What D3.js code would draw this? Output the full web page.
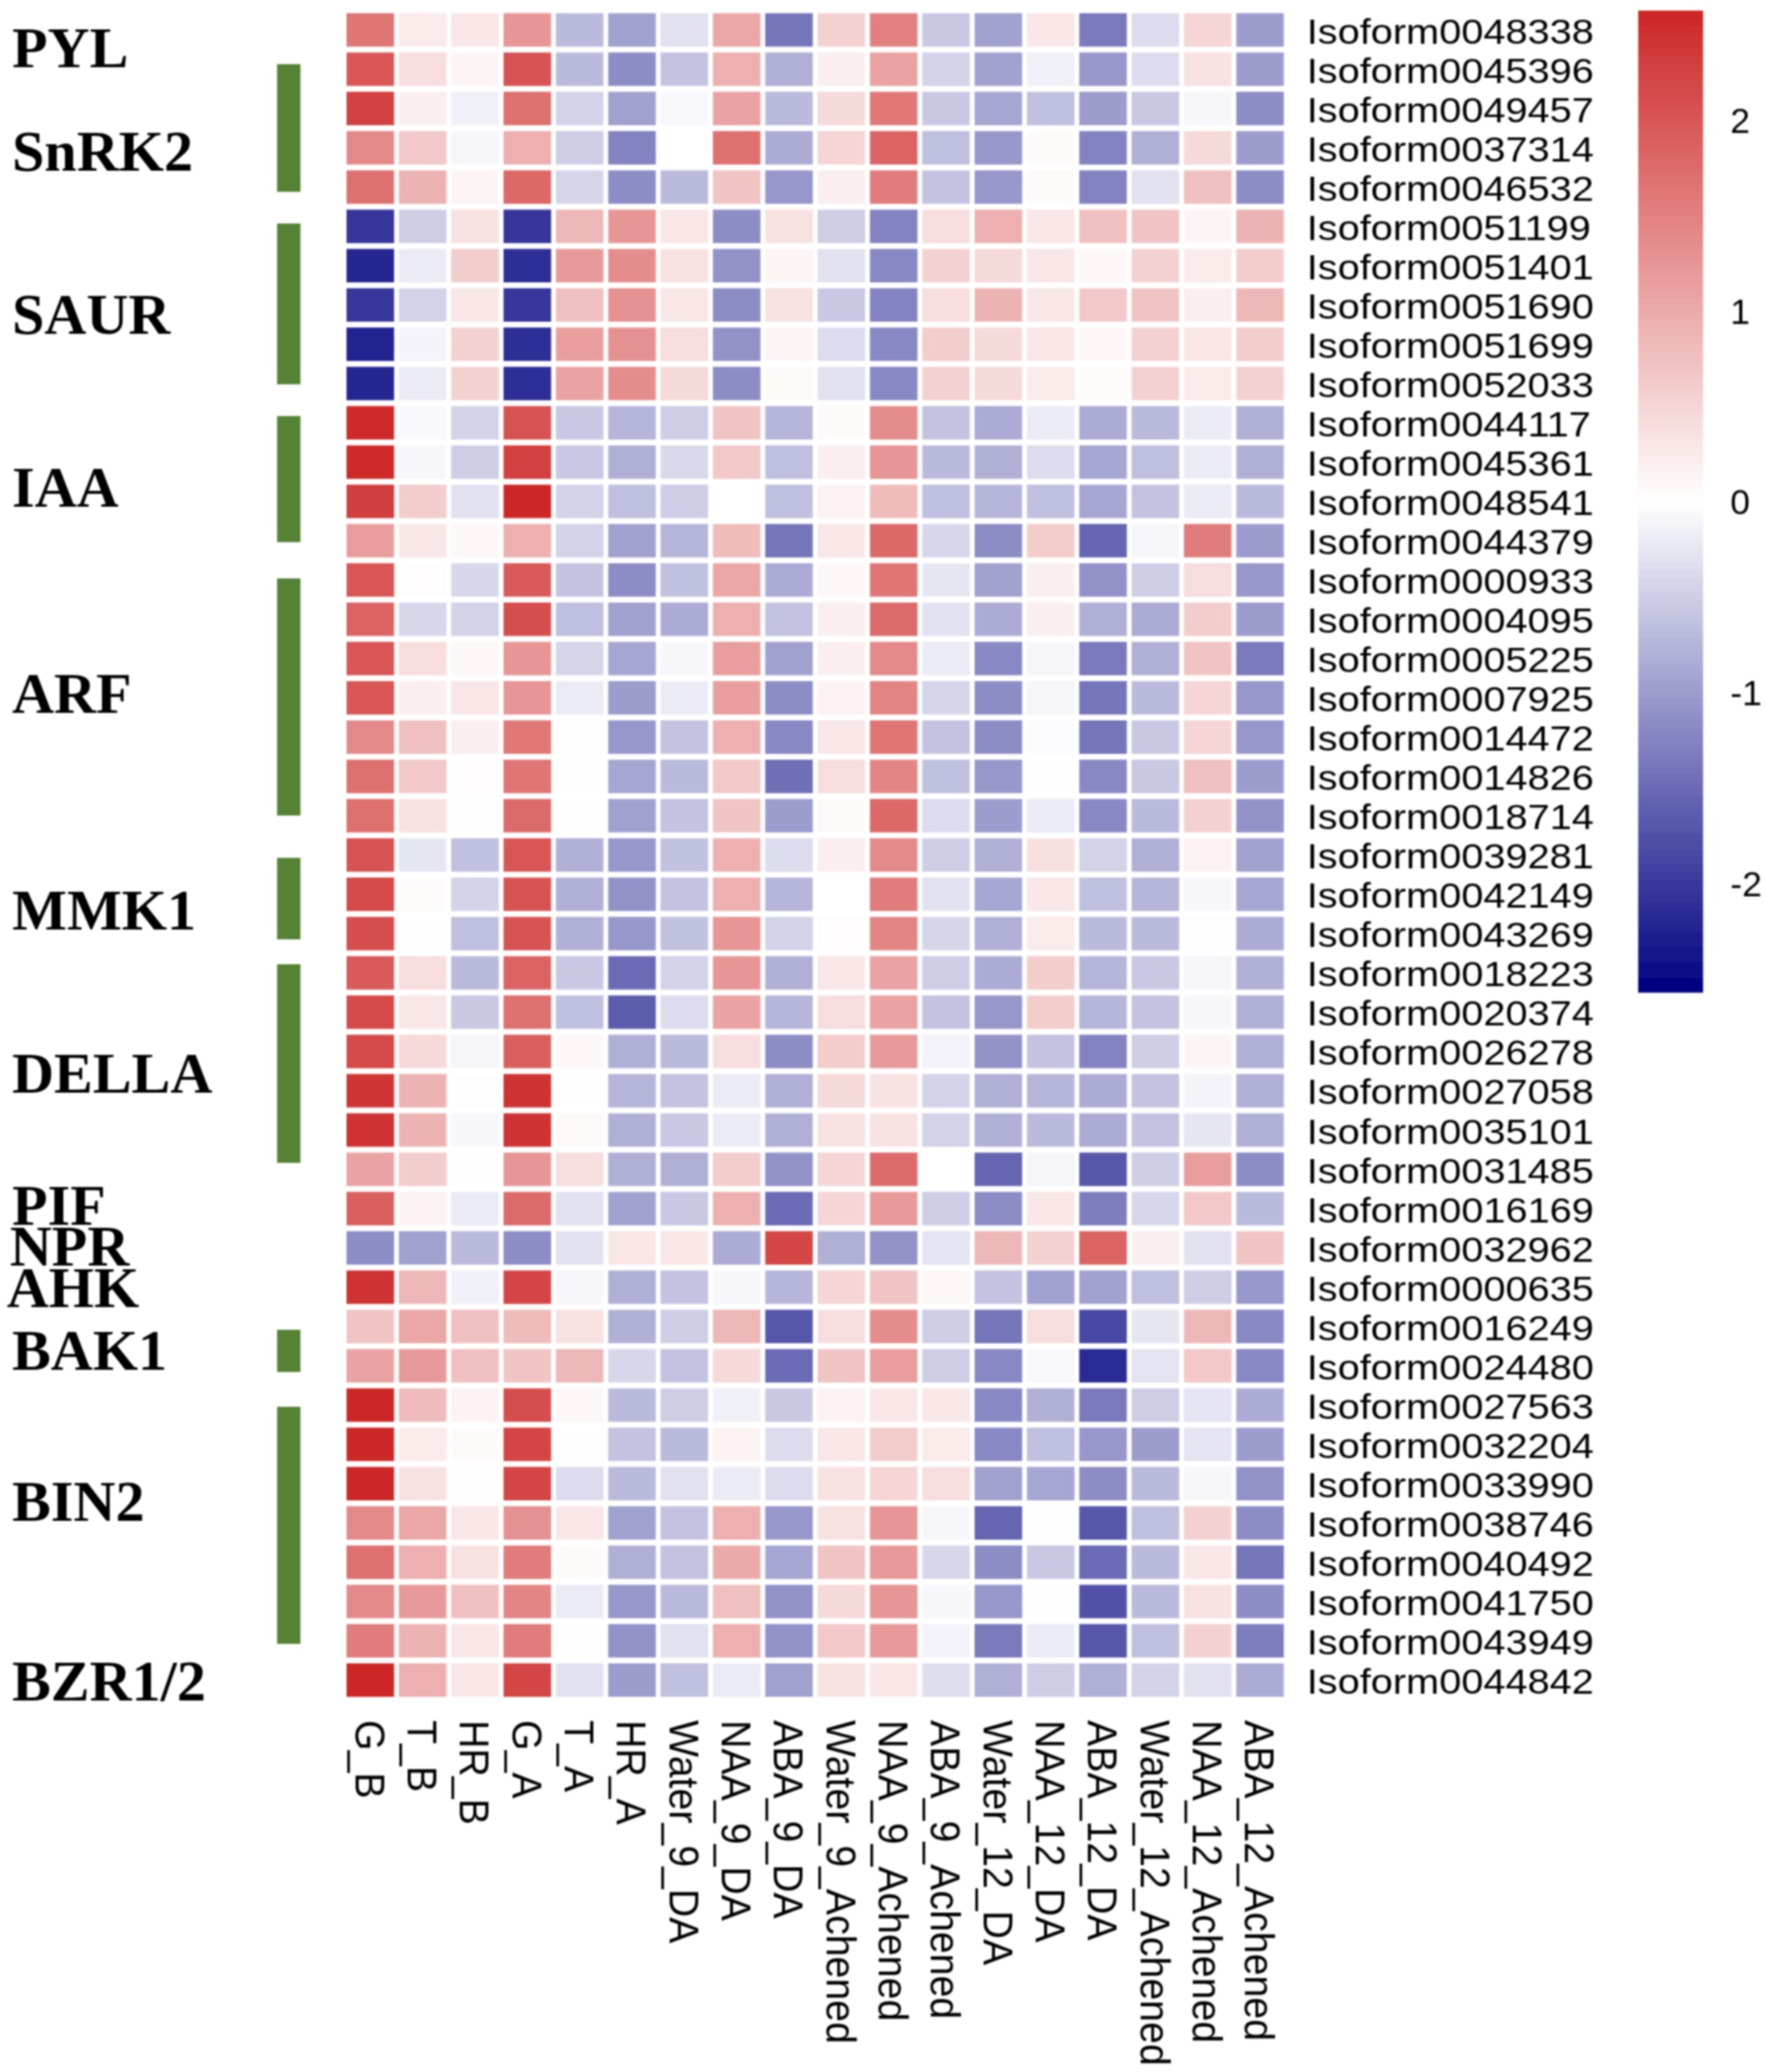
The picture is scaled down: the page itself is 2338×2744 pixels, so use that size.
<!DOCTYPE html>
<html>
<head>
<meta charset="utf-8">
<script src="https://cdn.jsdelivr.net/npm/d3@7/dist/d3.min.js"></script>
<style>
html,body{margin:0;padding:0;background:#fff;}
svg{display:block;}
</style>
</head>
<body>
<div id="chart"></div>
<script>
const samples = ["G_B","T_B","HR_B","G_A","T_A","HR_A","Water_9_DA","NAA_9_DA","ABA_9_DA","Water_9_Achened","NAA_9_Achened","ABA_9_Achened","Water_12_DA","NAA_12_DA","ABA_12_DA","Water_12_Achened","NAA_12_Achened","ABA_12_Achened"];
const isoforms = ["Isoform0048338","Isoform0045396","Isoform0049457","Isoform0037314","Isoform0046532","Isoform0051199","Isoform0051401","Isoform0051690","Isoform0051699","Isoform0052033","Isoform0044117","Isoform0045361","Isoform0048541","Isoform0044379","Isoform0000933","Isoform0004095","Isoform0005225","Isoform0007925","Isoform0014472","Isoform0014826","Isoform0018714","Isoform0039281","Isoform0042149","Isoform0043269","Isoform0018223","Isoform0020374","Isoform0026278","Isoform0027058","Isoform0035101","Isoform0031485","Isoform0016169","Isoform0032962","Isoform0000635","Isoform0016249","Isoform0024480","Isoform0027563","Isoform0032204","Isoform0033990","Isoform0038746","Isoform0040492","Isoform0041750","Isoform0043949","Isoform0044842"];
const expression = [
[1.65,.25,.3,1.25,-.7,-.95,-.3,1.05,-1.4,.55,1.5,-.55,-.95,.3,-1.35,-.35,.5,-1.0],
[2.0,.4,.12,2.05,-.7,-1.15,-.6,.95,-.8,.2,1.1,-.45,-.95,-.15,-1.05,-.35,.35,-1.0],
[2.25,.2,-.15,1.7,-.45,-.95,-.07,1.1,-.7,.45,1.6,-.55,-.9,-.65,-1.0,-.55,-.08,-1.15],
[1.4,.65,-.1,.95,-.5,-1.25,0,1.7,-.85,.5,1.85,-.65,-1.05,.06,-1.25,-.8,.45,-1.0],
[1.7,.9,.12,1.8,-.42,-1.15,-.7,.7,-1.05,.2,1.55,-.6,-1.05,.06,-1.25,-.3,.75,-1.15],
[-2.05,-.5,.35,-2.05,.85,1.25,.3,-1.15,.35,-.5,-1.25,.4,.95,.3,.75,.7,.12,.9],
[-2.2,-.2,.6,-2.1,1.2,1.35,.35,-1.1,.12,-.3,-1.2,.55,.45,.3,.1,.55,.25,.6],
[-2.0,-.45,.3,-2.0,.75,1.3,.3,-1.15,.35,-.55,-1.25,.4,.9,.3,.65,.7,.2,.85],
[-2.25,-.12,.55,-2.1,1.15,1.3,.4,-1.1,.12,-.35,-1.2,.6,.45,.3,.1,.55,.3,.6],
[-2.2,-.2,.55,-2.1,1.1,1.35,.45,-1.15,.07,-.3,-1.2,.55,.45,.25,.05,.55,.25,.55],
[2.5,-.06,-.45,2.05,-.55,-.75,-.5,.7,-.75,.06,1.35,-.6,-.85,-.2,-.85,-.7,-.2,-.8],
[2.5,-.08,-.5,2.25,-.55,-.8,-.38,.65,-.65,.2,1.25,-.7,-.8,-.35,-.9,-.65,-.2,-.8],
[2.3,.6,-.3,2.55,-.45,-.65,-.5,0,-.65,.15,.8,-.65,-.75,-.65,-.9,-.6,-.2,-.7],
[1.15,.3,.1,.95,-.45,-.95,-.75,.8,-1.4,.3,1.8,-.4,-1.15,.6,-1.55,-.1,1.55,-1.0],
[2.0,.03,-.4,1.95,-.6,-1.15,-.65,1.05,-.85,.1,1.65,-.25,-.95,.2,-1.1,-.5,.4,-1.05],
[1.85,-.4,-.45,2.1,-.65,-.95,-.85,.95,-.6,.2,1.75,-.3,-.85,.2,-.8,-.85,.6,-1.0],
[2.0,.4,.1,1.25,-.42,-.9,-.08,1.15,-.95,.2,1.4,-.2,-1.2,-.1,-1.35,-.8,.7,-1.35],
[2.0,.2,.3,1.25,-.2,-1.0,-.2,1.15,-1.15,.15,1.45,-.42,-1.15,-.1,-1.4,-.7,.5,-1.05],
[1.4,.75,.2,1.6,-.02,-1.05,-.6,.95,-1.2,.3,1.65,-.6,-1.15,-.03,-1.4,-.55,.5,-1.05],
[1.7,.65,.02,1.65,-.01,-.9,-.7,.65,-1.45,.4,1.45,-.65,-1.05,-.01,-1.2,-.55,.75,-1.0],
[1.7,.35,.01,1.75,-.01,-.95,-.6,.7,-1.0,.07,1.8,-.35,-1.0,-.2,-1.2,-.7,.55,-1.1],
[2.05,-.25,-.65,2.0,-.8,-1.05,-.62,.95,-.35,.2,1.4,-.5,-.8,.38,-.45,-.8,.15,-.95],
[2.15,.05,-.45,2.05,-.8,-1.1,-.6,.95,-.75,0,1.55,-.3,-.9,.3,-.65,-.75,-.08,-.9],
[2.1,-.01,-.65,2.05,-.8,-1.05,-.62,1.25,-.45,.04,1.45,-.42,-.8,.25,-.7,-.7,-.02,-.85],
[1.95,.4,-.7,1.85,-.55,-1.5,-.45,1.25,-.8,.3,1.1,-.5,-.85,.6,-.75,-.55,-.1,-.8],
[2.15,.3,-.55,1.7,-.65,-1.65,-.35,1.1,-.75,.4,1.1,-.6,-1.05,.6,-.75,-.6,-.08,-.8],
[2.15,.45,-.1,1.9,.1,-.8,-.7,.4,-1.15,.6,1.2,-.12,-1.1,-.6,-1.25,-.5,.12,-.8],
[2.4,.9,-.02,2.45,.01,-.75,-.6,-.2,-.8,.45,.35,-.45,-.8,-.75,-.85,-.6,-.12,-.8],
[2.45,.9,-.08,2.45,.07,-.8,-.55,-.2,-.8,.35,.35,-.45,-.8,-.7,-.85,-.6,-.25,-.8],
[1.1,.6,-.02,1.25,.4,-.8,-.8,.6,-1.1,.5,1.75,0,-1.55,-.1,-1.7,-.5,1.15,-1.15],
[1.9,.15,-.2,1.75,-.3,-.95,-.55,.95,-1.5,.5,1.2,-.5,-1.15,.3,-1.3,-.4,.65,-.7],
[-1.15,-.95,-.7,-1.15,-.3,.3,.3,-.85,2.2,-.8,-1.1,-.28,.85,.55,1.85,.2,-.3,.7],
[2.45,.85,-.15,2.2,-.08,-.8,-.6,-.08,-.75,.5,.7,.1,-.6,-.95,-.95,-.65,-.5,-1.05],
[.7,1.05,.75,.8,.35,-.8,-.5,.85,-1.7,.4,1.35,-.5,-1.4,.4,-1.85,-.25,.85,-1.2],
[1.1,1.2,.75,.7,.85,-.4,-.6,.45,-1.5,.7,1.15,-.5,-1.2,-.07,-2.15,-.28,.65,-1.2],
[2.55,.8,.15,2.1,.1,-.7,-.5,-.15,-.55,.15,.3,.3,-1.2,-.8,-1.35,-.5,-.27,-.85],
[2.55,.25,.06,2.2,.01,-.6,-.7,.15,-.35,.3,.6,.25,-1.2,-.65,-1.05,-1.0,-.27,-1.0],
[2.57,.35,.01,2.2,-.35,-.7,-.3,-.2,-.35,.35,.5,.4,-.95,-.9,-1.15,-.7,-.08,-1.1],
[1.4,1.05,.3,1.3,.3,-.95,-.6,.95,-1.05,.35,1.25,-.08,-1.55,-.01,-1.7,-.65,.55,-1.15],
[1.7,.95,.35,1.55,.06,-.8,-.6,1.0,-.9,.7,1.2,-.4,-1.15,-.55,-1.5,-.7,.3,-1.4],
[1.4,1.2,.75,1.45,-.2,-1.05,-.7,.75,-1.1,.45,1.25,-.08,-1.05,-.01,-1.75,-.7,.35,-1.15],
[1.55,.9,.3,1.55,-.01,-1.1,-.3,.95,-1.1,.65,1.2,-.12,-1.35,-.2,-1.7,-.65,.55,-1.3],
[2.55,.95,.3,2.2,-.3,-1.0,-.65,-.2,-.95,.35,.3,-.33,-.8,-.5,-.8,-.45,-.3,-.85]
];
const groupNames = ["PYL","SnRK2","SAUR","IAA","ARF","MMK1","DELLA","PIF","NPR","AHK","BAK1","BIN2","BZR1/2"];
const legendTicks = [-2,-1,0,1,2];

// Layout (not data)
const W = 2338, H = 2744;
const groupBaselines = [89,226,442,671,944,1231,1447,1622,1676,1731,1814,2014,2252];
const groupX = [16,16,16,16,16,16,16,16,13,9,16,16,16];
const barSpans = [[85,254],[296,509],[551,718],[766,1080],[1136,1244],[1277,1540],[1761,1817],[1863,2177]];

const svg = d3.select("#chart").append("svg").attr("width",W).attr("height",H).attr("viewBox",`0 0 ${W} ${H}`);
svg.append("rect").attr("width",W).attr("height",H).attr("fill","#fff");
const defs = svg.append("defs");
defs.append("filter").attr("id","soft").attr("x","-1%").attr("y","-1%").attr("width","102%").attr("height","102%")
  .append("feGaussianBlur").attr("stdDeviation",0.8);
const root = svg.append("g").attr("filter","url(#soft)");

const x = d3.scaleBand().domain(samples).range([455.85,1703.8]).paddingInner(0.091).paddingOuter(0.0455);
const y = d3.scaleBand().domain(isoforms).range([13.6,2251]).paddingInner(0.148).paddingOuter(0.074);
const limit = 2.57;
const color = d3.scaleLinear().domain([-limit,0,limit]).range(["#000080","#ffffff","#CD2626"]);

const cells = isoforms.flatMap((iso,r)=>samples.map((s,c)=>({iso,s,v:expression[r][c]})));
root.append("g").selectAll("rect").data(cells).join("rect")
  .attr("x",d=>x(d.s)).attr("y",d=>y(d.iso))
  .attr("width",x.bandwidth()).attr("height",y.bandwidth())
  .attr("fill",d=>color(d.v));

// Row labels
root.append("g").selectAll("text").data(isoforms).join("text")
  .attr("transform",d=>`translate(1731,${y(d)+y.bandwidth()/2+18}) scale(1.12,1)`)
  .attr("font-family","'Liberation Sans',Arial,sans-serif").attr("font-size",47).attr("fill","#000")
  .text(d=>d);

// Column labels
root.append("g").selectAll("text").data(samples).join("text")
  .attr("transform",d=>`translate(${x(d)+x.bandwidth()/2-19.8},2278) rotate(90) scale(1,1.065)`)
  .attr("font-family","'Liberation Sans',Arial,sans-serif").attr("font-size",52).attr("fill","#000")
  .text(d=>d);

// Green annotation bars
root.append("g").selectAll("rect").data(barSpans).join("rect")
  .attr("x",367).attr("width",31).attr("y",d=>d[0]).attr("height",d=>d[1]-d[0]).attr("fill","#548235");

// Group labels
root.append("g").selectAll("text").data(groupNames).join("text")
  .attr("x",(d,i)=>groupX[i]).attr("y",(d,i)=>groupBaselines[i])
  .attr("font-family","'Liberation Serif','Times New Roman',serif").attr("font-weight","bold")
  .attr("font-size",77).attr("fill","#000").text(d=>d);

// Legend
const legendY = d3.scaleLinear().domain([-limit,limit]).range([1314,14]);
const nSteps = 130;
const steps = d3.range(0,nSteps).map(i=>-limit+(i+0.5)*(2*limit)/nSteps);
const stepH = 1300/nSteps;
root.append("g").selectAll("rect").data(steps).join("rect")
  .attr("x",2170).attr("width",86).attr("y",d=>legendY(d)-stepH/2).attr("height",stepH+0.6)
  .attr("fill",d=>color(d));
const axis = d3.axisRight(legendY).tickValues(legendTicks).tickSize(0).tickPadding(0).tickFormat(d=>String(d));
const ag = root.append("g").attr("transform","translate(2292,0)").call(axis);
ag.select(".domain").remove();
ag.selectAll("text").attr("font-family","'Liberation Sans',Arial,sans-serif").attr("font-size",47).attr("fill","#000").attr("x",0).attr("dy","0.36em");
</script>
</body>
</html>
